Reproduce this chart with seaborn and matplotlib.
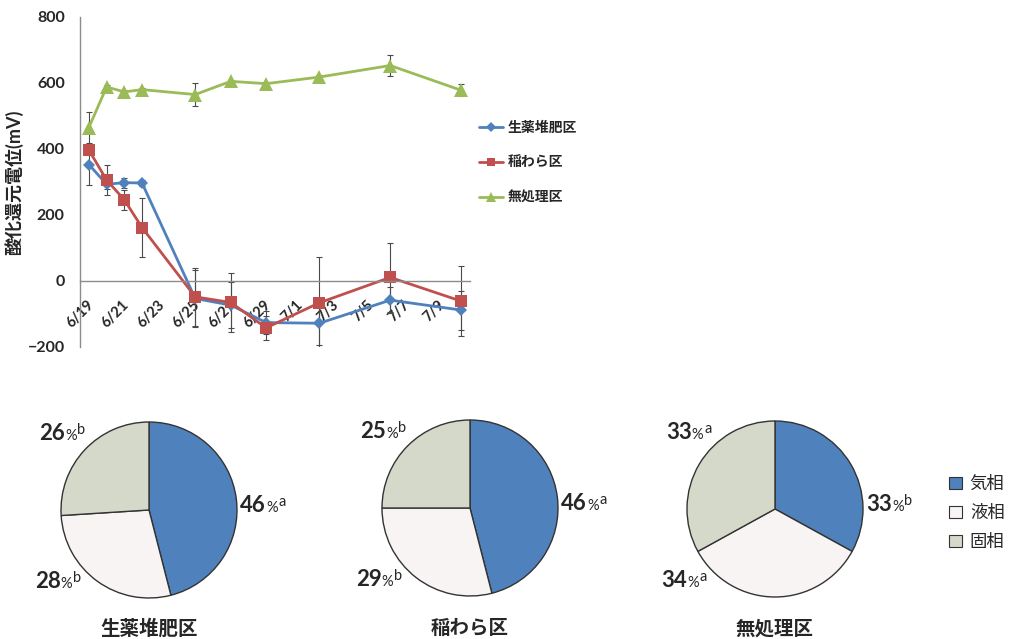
import numpy as np
import pandas as pd
import matplotlib
matplotlib.use("Agg")
import matplotlib.pyplot as plt
import seaborn as sns
from matplotlib.lines import Line2D
from matplotlib.patches import Patch
from matplotlib.offsetbox import TextArea, HPacker, AnnotationBbox

# --- data ---
# days counted from 6/19
days = [0, 1, 2, 3, 6, 8, 10, 13, 17, 21]
tick_days = [0, 2, 4, 6, 8, 10, 12, 14, 16, 18, 20, 22]
tick_labels = ["6/19", "6/21", "6/23", "6/25", "6/27", "6/29",
               "7/1", "7/3", "7/5", "7/7", "7/9", ""]

series_names = ["生薬堆肥区", "稲わら区", "無処理区"]
orp_compost = [353, 293, 298, 297, -53, -73, -126, -128, -58, -88]
orp_straw = [397, 306, 246, 162, -48, -65, -142, -66, 11, -61]
orp_none = [465, 588, 573, 580, 565, 605, 598, 618, 653, 578]
err_compost = [62, 15, 15, 10, 86, 70, 35, 65, 40, 59]
err_straw = [15, 45, 31, 88, 88, 90, 37, 140, 105, 107]
err_none = [46, 5, 5, 5, 35, 5, 5, 5, 32, 18]

phase_names = ["気相", "液相", "固相"]
pie_titles = ["生薬堆肥区", "稲わら区", "無処理区"]
pie_values = [[46, 28, 26], [46, 29, 25], [33, 34, 33]]
pie_letters = [["a", "b", "b"], ["a", "b", "b"], ["b", "a", "a"]]

# --- style ---
sns.set_style("white")
plt.rcParams["font.family"] = ["Lato", "Noto Sans CJK JP", "DejaVu Sans"]

line_colors = ["#4F81BD", "#C0504D", "#9BBB59"]
line_markers = ["D", "s", "^"]
marker_sizes = [6.5, 8.5, 9.5]
phase_colors = ["#4F81BD", "#F8F4F4", "#D5D9C9"]
W, H = 1015, 639

fig = plt.figure(figsize=(W / 100, H / 100), dpi=100)

# ---------------- line chart ----------------
ax = fig.add_axes([80 / W, 1 - 347 / H, 390 / W, 330 / H])
x = np.array(days) + 0.5
for name, vals, errs, c, m, ms in zip(series_names,
                                     [orp_compost, orp_straw, orp_none],
                                     [err_compost, err_straw, err_none],
                                     line_colors, line_markers, marker_sizes):
    df = pd.DataFrame({"day": x, "orp": vals})
    sns.lineplot(data=df, x="day", y="orp", color=c, marker=m, markersize=ms,
                 markeredgewidth=0, linewidth=2, ax=ax, sort=False, zorder=2)
    ax.errorbar(x, vals, yerr=errs, fmt="none", ecolor="#4a4a4a",
                elinewidth=0.8, capsize=2.5, capthick=0.8, zorder=1.9)

ax.spines["bottom"].set_position(("data", 0))
ax.spines["top"].set_visible(False)
ax.spines["right"].set_visible(False)
for s in ["left", "bottom"]:
    ax.spines[s].set_color("#8c8c8c")
    ax.spines[s].set_linewidth(1)

ax.set_xlim(0, 22)
ax.set_ylim(-200, 800)
ax.set_yticks([-200, 0, 200, 400, 600, 800])
ax.set_xticks(tick_days)
ax.set_xticklabels(tick_labels, rotation=45, ha="center", va="top",
                   fontsize=10.5, fontweight="bold")
for lab in ax.get_yticklabels():
    lab.set_fontweight("bold")
    lab.set_fontsize(11.5)
ax.set_xlabel("")
ax.set_ylabel("酸化還元電位(mV)", fontsize=13, fontweight="bold", labelpad=3)
ax.tick_params(axis="x", direction="out", length=4, width=0.8,
               color="#8c8c8c", pad=8)
ax.tick_params(axis="y", direction="out", length=4, width=0.8,
               color="#8c8c8c", pad=7)

handles = [Line2D([0], [0], color=c, marker=m, markersize=ms * 0.75,
                  markeredgewidth=0, linewidth=2)
           for c, m, ms in zip(line_colors, line_markers, marker_sizes)]
fig.legend(handles, series_names, loc="center left",
           bbox_to_anchor=(479 / W, 1 - 162 / H), frameon=False,
           prop={"weight": "bold", "size": 10}, handlelength=1.7,
           handletextpad=0.35, labelspacing=1.6, borderpad=0,
           borderaxespad=0)

# ---------------- pies ----------------
pie_centers = [(149, 510), (470, 508), (775, 509)]
radius_px = 88
box_px = 280
lim = box_px / 2 / radius_px
label_angles = [3, -138, 134]

for (cx, cy), vals, letters, title in zip(pie_centers, pie_values,
                                         pie_letters, pie_titles):
    pax = fig.add_axes([(cx - box_px / 2) / W, (H - cy - box_px / 2) / H,
                        box_px / W, box_px / H])
    pax.pie(vals, colors=phase_colors, startangle=90, counterclock=False,
            radius=1, wedgeprops=dict(edgecolor="#333333", linewidth=1))
    pax.set_xlim(-lim, lim)
    pax.set_ylim(-lim, lim)
    pax.axis("off")
    for v, let, ang in zip(vals, letters, label_angles):
        t = np.deg2rad(ang)
        px, py = 1.04 * np.cos(t), 1.04 * np.sin(t)
        num = TextArea(str(v), textprops=dict(fontsize=16, fontweight="bold"))
        pct = TextArea("%", textprops=dict(fontsize=10.5))
        sup = TextArea(let, textprops=dict(fontsize=10.5))
        low = HPacker(children=[num, pct], align="baseline", pad=0, sep=0)
        box = HPacker(children=[low, sup], align="top", pad=0, sep=0.5)
        ha = 0 if np.cos(t) > 0 else 1
        va = 0.5 if abs(np.sin(t)) < 0.5 else (1 if np.sin(t) < 0 else 0)
        ab = AnnotationBbox(box, (px, py), xycoords="data",
                            box_alignment=(ha, va), frameon=False, pad=0)
        pax.add_artist(ab)
    pax.text(0, -(628 - cy) / radius_px, title, ha="center", va="center",
             fontsize=14, fontweight="bold")

fig.legend([Patch(facecolor=c, edgecolor="#333333", linewidth=0.8)
            for c in phase_colors], phase_names, loc="center left",
           bbox_to_anchor=(949 / W, 1 - 513 / H), frameon=False, fontsize=12.5,
           handlelength=0.75, handleheight=0.75, handletextpad=0.45,
           labelspacing=0.75, borderpad=0, borderaxespad=0)

fig.savefig("out.png", dpi=100)
